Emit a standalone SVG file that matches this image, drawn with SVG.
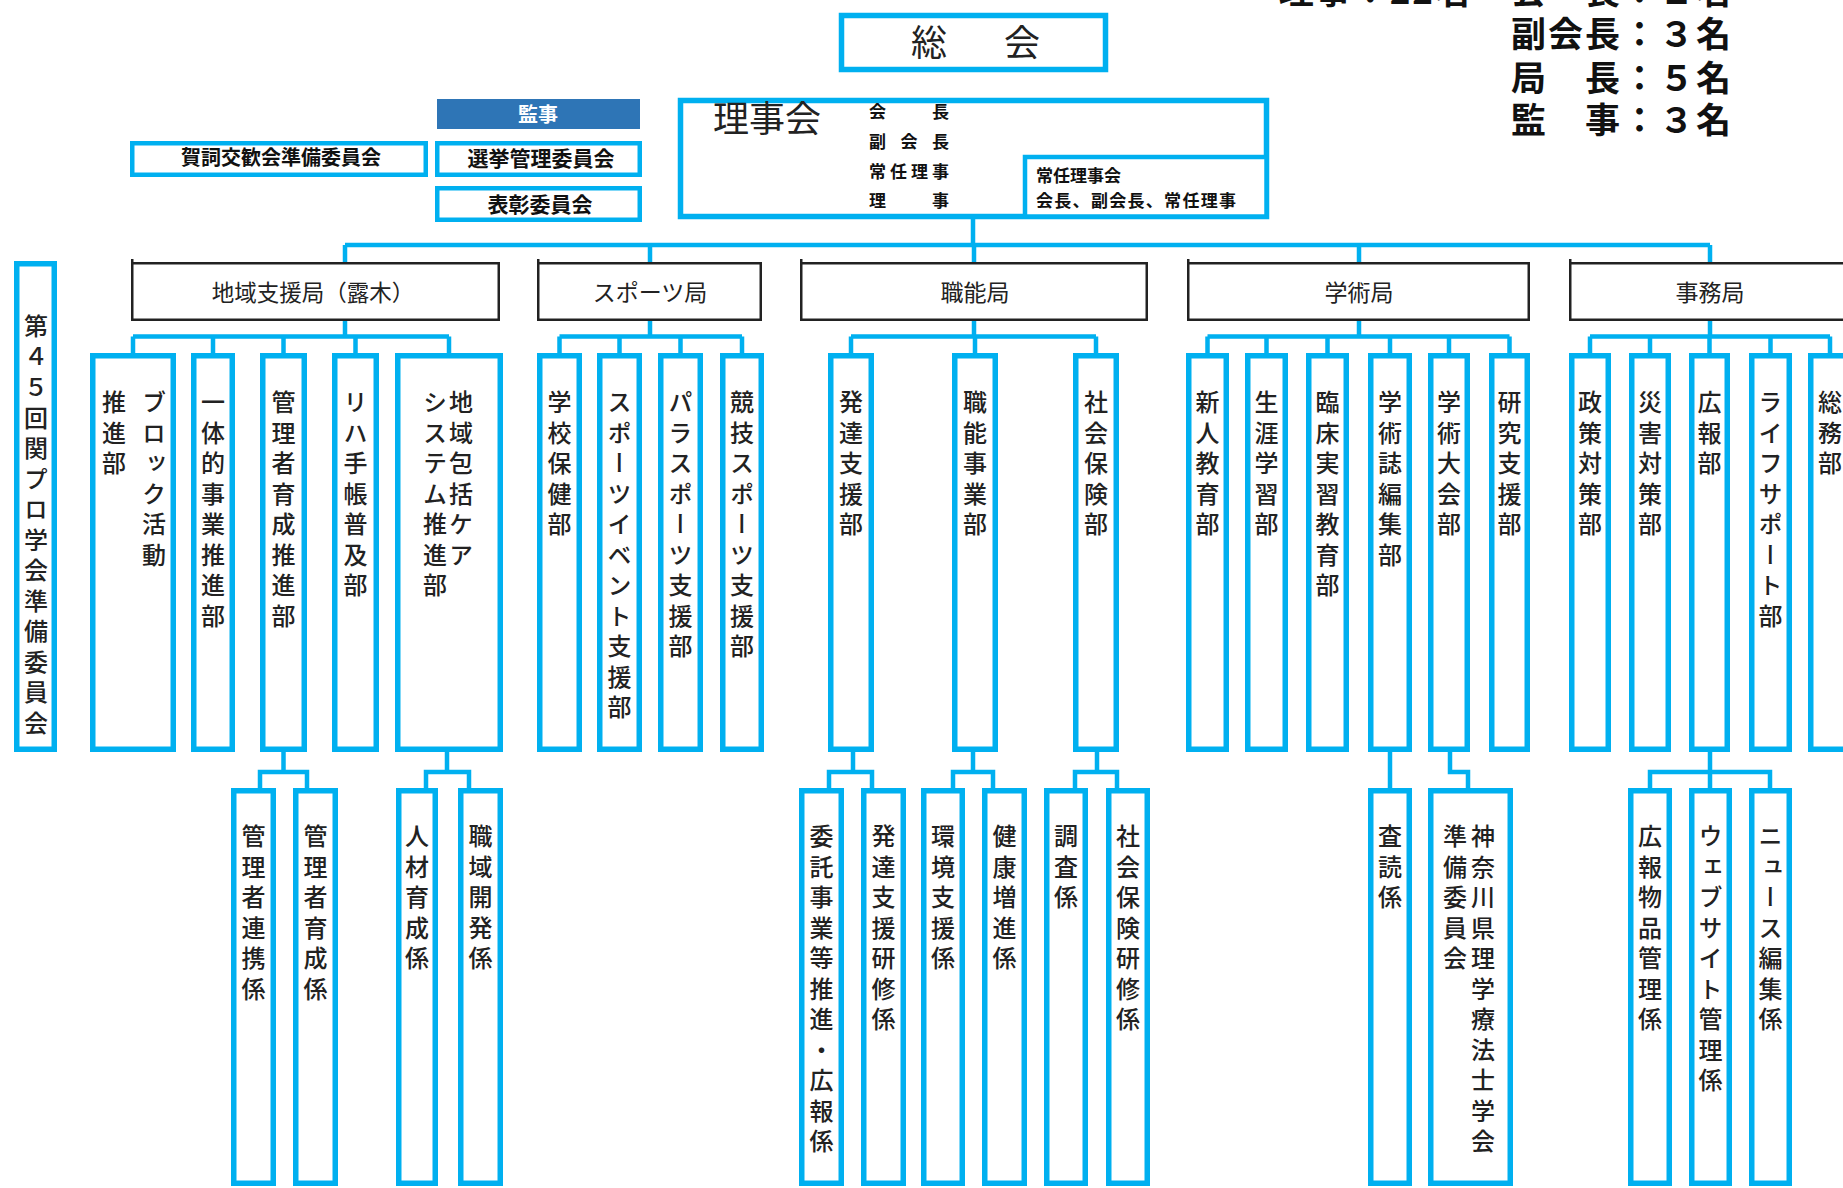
<svg xmlns="http://www.w3.org/2000/svg" width="1843" height="1188" viewBox="0 0 1843 1188">
<style>
.b{fill:#fff;stroke:#00b0f0;stroke-width:5.5}
.bt{fill:#fff;stroke:#00b0f0;stroke-width:4.5}
.k{fill:#fff;stroke:#222;stroke-width:2.5}
.c{fill:none;stroke:#00b0f0;stroke-width:4.5}
.v{font-family:"Noto Sans CJK JP",sans-serif;font-size:24px;writing-mode:vertical-rl;text-orientation:upright;letter-spacing:6.5px;fill:#222;font-weight:500}
.h{font-family:"Noto Sans CJK JP",sans-serif;fill:#222}
.hb{font-family:"Noto Sans CJK JP",sans-serif;fill:#111;font-weight:700}
.m{text-anchor:middle}
</style>
<rect width="1843" height="1188" fill="#fff"/>

<g id="summary">
<text class="hb" font-size="35" letter-spacing="2" x="1472" y="4" text-anchor="end">理事：22名</text>
<text class="hb" font-size="35" letter-spacing="2" x="1511" y="4">会　長：１名</text>
<text class="hb" font-size="35" letter-spacing="2" x="1511" y="47">副会長：３名</text>
<text class="hb" font-size="35" letter-spacing="2" x="1511" y="91">局　長：５名</text>
<text class="hb" font-size="35" letter-spacing="2" x="1511" y="133">監　事：３名</text>
</g>

<g id="connectors">
<path class="c" d="M973,218V245M345,245H1710M345,245V263M650,245V263M974,245V263M1359,245V263M1710,245V263"/>
<path class="c" d="M345,321V336.5M133,336.5H449M133,336.5V353M213,336.5V353M283.5,336.5V353M355.5,336.5V353M449,336.5V353"/>
<path class="c" d="M650,321V336.5M559.5,336.5H742M559.5,336.5V353M619.5,336.5V353M680.5,336.5V353M742,336.5V353"/>
<path class="c" d="M974,321V336.5M851,336.5H1096M851,336.5V353M975,336.5V353M1096,336.5V353"/>
<path class="c" d="M1359,321V336.5M1207.5,336.5H1509.5M1207.5,336.5V353M1266.5,336.5V353M1327.5,336.5V353M1390,336.5V353M1449,336.5V353M1509.5,336.5V353"/>
<path class="c" d="M1710,321V336.5M1590,336.5H1830M1590,336.5V353M1650,336.5V353M1709.5,336.5V353M1770.5,336.5V353M1830,336.5V353"/>
<path class="c" d="M283.5,752V772M260,788V772H307V788"/>
<path class="c" d="M447,752V772M426,788V772H469V788"/>
<path class="c" d="M853,752V772M829,788V772H872V788"/>
<path class="c" d="M973,752V772M953,788V772H993V788"/>
<path class="c" d="M1097,752V772M1075,788V772H1117V788"/>
<path class="c" d="M1390,752V788"/>
<path class="c" d="M1450,752V772H1468V788"/>
<path class="c" d="M1710,752V788M1650,788V772H1770V788"/>
</g>

<g id="soukai">
<rect class="b" x="841.5" y="15.5" width="264" height="54"/>
<text class="h" font-size="36" x="911" y="55.5" textLength="129" lengthAdjust="spacing">総　会</text>
</g>

<g id="rijikai">
<rect class="b" x="680.5" y="100.5" width="586" height="116"/>
<text class="h" font-size="36" x="713" y="132">理事会</text>
<text class="hb" font-size="17" x="869" y="117.5" textLength="80" lengthAdjust="spacing">会　　長</text>
<text class="hb" font-size="17" x="869" y="148" textLength="80" lengthAdjust="spacing">副 会 長</text>
<text class="hb" font-size="17" x="869" y="177.5" textLength="80" lengthAdjust="spacing">常任理事</text>
<text class="hb" font-size="17" x="869" y="207" textLength="80" lengthAdjust="spacing">理　　事</text>
</g>
<g id="joninrijikai">
<rect class="bt" x="1025" y="157" width="241.5" height="59.5"/>
<text class="hb" font-size="17" x="1036" y="181.5">常任理事会</text>
<text class="hb" font-size="17" x="1036" y="206.5" textLength="200" lengthAdjust="spacing">会長、副会長、常任理事</text>
</g>

<g id="kanji">
<rect x="437" y="99" width="203" height="30" fill="#2e75b6"/>
<text class="hb m" font-size="20" x="538" y="121.5" style="fill:#fff">監事</text>
</g>
<g id="senkyo">
<rect class="bt" x="437.25" y="143.25" width="202.5" height="31.5"/>
<text class="hb m" font-size="21" x="541" y="166">選挙管理委員会</text>
</g>
<g id="hyosho">
<rect class="bt" x="437.25" y="188.25" width="202.5" height="31.5"/>
<text class="hb m" font-size="21" x="540" y="212">表彰委員会</text>
</g>
<g id="gashi">
<rect class="bt" x="132.25" y="143.25" width="293.5" height="31.5"/>
<text class="hb m" font-size="20" x="281" y="165">賀詞交歓会準備委員会</text>
</g>

<g id="kanpro">
<rect class="b" x="16.75" y="263.75" width="37.5" height="485.5"/>
<text class="v" x="36" y="314" letter-spacing="6">第４５回関プロ学会準備委員会</text>
</g>

<!-- bureaus -->
<g id="kyoku-chiiki">
<rect class="k" x="132.25" y="263.25" width="366.5" height="56.5"/><path d="M132.25,259V264" stroke="#222" stroke-width="2.5"/>
<text class="h m" font-size="22.5" x="313" y="300.5">地域支援局（露木）</text>
</g>
<g id="kyoku-sports">
<rect class="k" x="538.25" y="263.25" width="222.5" height="56.5"/><path d="M538.25,259V264" stroke="#222" stroke-width="2.5"/>
<text class="h m" font-size="23" x="650" y="301">スポーツ局</text>
</g>
<g id="kyoku-shokuno">
<rect class="k" x="801.25" y="263.25" width="345.5" height="56.5"/><path d="M801.25,259V264" stroke="#222" stroke-width="2.5"/>
<text class="h m" font-size="23" x="975" y="301">職能局</text>
</g>
<g id="kyoku-gakujutsu">
<rect class="k" x="1188.25" y="263.25" width="340.5" height="56.5"/><path d="M1188.25,259V264" stroke="#222" stroke-width="2.5"/>
<text class="h m" font-size="23" x="1359" y="301">学術局</text>
</g>
<g id="kyoku-jimu">
<rect class="k" x="1570.25" y="263.25" width="300" height="56.5"/><path d="M1570.25,259V264" stroke="#222" stroke-width="2.5"/>
<text class="h m" font-size="23" x="1710" y="301">事務局</text>
</g>

<!-- departments -->
<g id="bu-block"><rect class="b" x="92.75" y="355.75" width="80.5" height="393.5"/><text class="v" x="154" y="390">ブロック活動</text><text class="v" x="114" y="390">推進部</text></g>
<g id="bu-ittai"><rect class="b" x="193.75" y="355.75" width="38.5" height="393.5"/><text class="v" x="213" y="390">一体的事業推進部</text></g>
<g id="bu-kanrisha"><rect class="b" x="262.75" y="355.75" width="41.5" height="393.5"/><text class="v" x="283.5" y="390">管理者育成推進部</text></g>
<g id="bu-riha"><rect class="b" x="334.75" y="355.75" width="41.5" height="393.5"/><text class="v" x="355.5" y="390">リハ手帳普及部</text></g>
<g id="bu-chiiki"><rect class="b" x="397.75" y="355.75" width="102.5" height="393.5"/><text class="v" x="461" y="390">地域包括ケア</text><text class="v" x="435" y="390">システム推進部</text></g>

<g id="bu-gakko"><rect class="b" x="539.75" y="355.75" width="39.5" height="393.5"/><text class="v" x="559.5" y="390">学校保健部</text></g>
<g id="bu-event"><rect class="b" x="599.75" y="355.75" width="39.5" height="393.5"/><text class="v" x="619.5" y="390" letter-spacing="2.2">スポーツイベント支援部</text></g>
<g id="bu-para"><rect class="b" x="660.75" y="355.75" width="39.5" height="393.5"/><text class="v" x="680.5" y="390">パラスポーツ支援部</text></g>
<g id="bu-kyogi"><rect class="b" x="722.75" y="355.75" width="38.5" height="393.5"/><text class="v" x="742" y="390">競技スポーツ支援部</text></g>

<g id="bu-hattatsu"><rect class="b" x="830.75" y="355.75" width="40.5" height="393.5"/><text class="v" x="851" y="390">発達支援部</text></g>
<g id="bu-shokuno"><rect class="b" x="954.75" y="355.75" width="40.5" height="393.5"/><text class="v" x="975" y="390">職能事業部</text></g>
<g id="bu-shakai"><rect class="b" x="1075.75" y="355.75" width="40.5" height="393.5"/><text class="v" x="1096" y="390">社会保険部</text></g>

<g id="bu-shinjin"><rect class="b" x="1188.75" y="355.75" width="37.5" height="393.5"/><text class="v" x="1207.5" y="390">新人教育部</text></g>
<g id="bu-shogai"><rect class="b" x="1247.75" y="355.75" width="37.5" height="393.5"/><text class="v" x="1266.5" y="390">生涯学習部</text></g>
<g id="bu-rinsho"><rect class="b" x="1308.75" y="355.75" width="37.5" height="393.5"/><text class="v" x="1327.5" y="390">臨床実習教育部</text></g>
<g id="bu-gakujutsushi"><rect class="b" x="1370.75" y="355.75" width="38.5" height="393.5"/><text class="v" x="1390" y="390">学術誌編集部</text></g>
<g id="bu-taikai"><rect class="b" x="1430.75" y="355.75" width="36.5" height="393.5"/><text class="v" x="1449" y="390">学術大会部</text></g>
<g id="bu-kenkyu"><rect class="b" x="1491.75" y="355.75" width="35.5" height="393.5"/><text class="v" x="1509.5" y="390">研究支援部</text></g>

<g id="bu-seisaku"><rect class="b" x="1571.75" y="355.75" width="36.5" height="393.5"/><text class="v" x="1590" y="390">政策対策部</text></g>
<g id="bu-saigai"><rect class="b" x="1631.75" y="355.75" width="36.5" height="393.5"/><text class="v" x="1650" y="390">災害対策部</text></g>
<g id="bu-koho"><rect class="b" x="1691.75" y="355.75" width="35.5" height="393.5"/><text class="v" x="1709.5" y="390">広報部</text></g>
<g id="bu-life"><rect class="b" x="1751.75" y="355.75" width="37.5" height="393.5"/><text class="v" x="1770.5" y="390">ライフサポート部</text></g>
<g id="bu-somu"><rect class="b" x="1810.75" y="355.75" width="38.5" height="393.5"/><text class="v" x="1830" y="390">総務部</text></g>

<!-- sections -->
<g id="kakari-renkei"><rect class="b" x="233.75" y="790.75" width="39.5" height="392.5"/><text class="v" x="253.5" y="824">管理者連携係</text></g>
<g id="kakari-ikusei"><rect class="b" x="295.75" y="790.75" width="39.5" height="392.5"/><text class="v" x="315.5" y="824">管理者育成係</text></g>
<g id="kakari-jinzai"><rect class="b" x="398.75" y="790.75" width="36.5" height="392.5"/><text class="v" x="417" y="824">人材育成係</text></g>
<g id="kakari-shokuiki"><rect class="b" x="460.75" y="790.75" width="39.5" height="392.5"/><text class="v" x="480.5" y="824">職域開発係</text></g>
<g id="kakari-itaku"><rect class="b" x="801.75" y="790.75" width="39.5" height="392.5"/><text class="v" x="821.5" y="824">委託事業等推進・広報係</text></g>
<g id="kakari-hattatsu"><rect class="b" x="863.75" y="790.75" width="39.5" height="392.5"/><text class="v" x="883.5" y="824">発達支援研修係</text></g>
<g id="kakari-kankyo"><rect class="b" x="923.75" y="790.75" width="38.5" height="392.5"/><text class="v" x="943" y="824">環境支援係</text></g>
<g id="kakari-kenko"><rect class="b" x="984.75" y="790.75" width="39.5" height="392.5"/><text class="v" x="1004.5" y="824">健康増進係</text></g>
<g id="kakari-chosa"><rect class="b" x="1046.75" y="790.75" width="38.5" height="392.5"/><text class="v" x="1066" y="824">調査係</text></g>
<g id="kakari-shakai"><rect class="b" x="1108.75" y="790.75" width="38.5" height="392.5"/><text class="v" x="1128" y="824">社会保険研修係</text></g>
<g id="kakari-sadoku"><rect class="b" x="1370.75" y="790.75" width="38.5" height="392.5"/><text class="v" x="1390" y="824">査読係</text></g>
<g id="kakari-kanagawa"><rect class="b" x="1430.75" y="790.75" width="79.5" height="392.5"/><text class="v" x="1483" y="824">神奈川県理学療法士学会</text><text class="v" x="1455" y="824">準備委員会</text></g>
<g id="kakari-buppin"><rect class="b" x="1630.75" y="790.75" width="38.5" height="392.5"/><text class="v" x="1650" y="824">広報物品管理係</text></g>
<g id="kakari-web"><rect class="b" x="1691.75" y="790.75" width="37.5" height="392.5"/><text class="v" x="1710.5" y="824">ウェブサイト管理係</text></g>
<g id="kakari-news"><rect class="b" x="1751.75" y="790.75" width="37.5" height="392.5"/><text class="v" x="1770.5" y="824">ニュース編集係</text></g>
</svg>
